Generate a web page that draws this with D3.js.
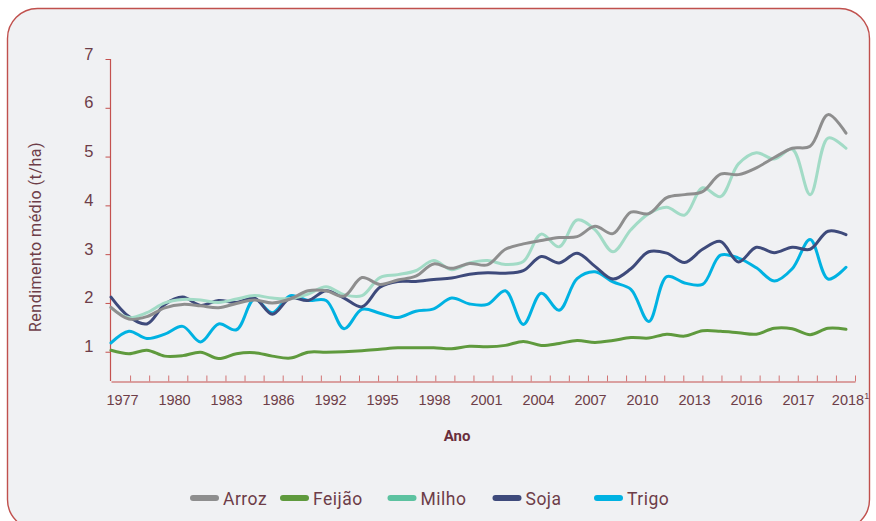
<!DOCTYPE html>
<html>
<head>
<meta charset="utf-8">
<script src="https://cdnjs.cloudflare.com/ajax/libs/d3/7.8.5/d3.min.js"></script>
<style>
  html, body { margin: 0; padding: 0; background: #ffffff; }
  svg { display: block; font-family: Roboto, "Open Sans", sans-serif; }
</style>
</head>
<body>
<svg id="chart" width="876" height="521"></svg>
<script>
// x axis labels as printed on the chart
const yearLabels = ['1977', '1980', '1983', '1986', '1992', '1995', '1998', '2001',
  '2004', '2007', '2010', '2013', '2016', '2017', '2018']

// yields (t/ha), one value per point along the x axis
const arroz = [1.91, 1.67, 1.72, 1.90, 1.97, 1.94, 1.90, 1.99, 2.06, 2.00, 2.08, 2.25, 2.25, 2.14,
  2.52, 2.38, 2.47, 2.55, 2.80, 2.71, 2.81, 2.78, 3.10, 3.21, 3.28, 3.34, 3.36, 3.57, 3.42,
  3.86, 3.83, 4.16, 4.22, 4.28, 4.64, 4.63, 4.77, 4.98, 5.17, 5.21, 5.86, 5.48]
const feijao = [1.03, 0.96, 1.03, 0.91, 0.92, 0.99, 0.86, 0.96, 0.98, 0.91, 0.87, 0.99, 0.99, 1.00,
  1.02, 1.05, 1.08, 1.08, 1.08, 1.06, 1.11, 1.10, 1.13, 1.21, 1.13, 1.17, 1.23, 1.19, 1.23,
  1.29, 1.28, 1.36, 1.32, 1.43, 1.42, 1.39, 1.36, 1.48, 1.47, 1.35, 1.48, 1.46]
const milho = [1.90, 1.70, 1.80, 2.00, 2.07, 2.06, 2.01, 2.08, 2.15, 2.10, 2.09, 2.18, 2.33, 2.17,
  2.15, 2.52, 2.58, 2.66, 2.87, 2.68, 2.82, 2.87, 2.79, 2.85, 3.41, 3.15, 3.70, 3.50, 3.05,
  3.50, 3.83, 3.96, 3.80, 4.36, 4.18, 4.85, 5.08, 4.95, 5.15, 4.22, 5.38, 5.17]
const soja = [2.12, 1.72, 1.57, 1.97, 2.12, 1.95, 2.05, 2.01, 2.10, 1.77, 2.10, 2.05, 2.25, 2.10,
  1.92, 2.32, 2.44, 2.44, 2.48, 2.51, 2.59, 2.62, 2.61, 2.66, 2.95, 2.82, 3.02, 2.75, 2.49,
  2.70, 3.05, 3.02, 2.83, 3.10, 3.26, 2.84, 3.14, 3.03, 3.14, 3.10, 3.47, 3.40]
const trigo = [1.18, 1.42, 1.27, 1.36, 1.52, 1.20, 1.57, 1.45, 2.08, 1.80, 2.15, 2.05, 2.05, 1.47,
  1.87, 1.79, 1.70, 1.83, 1.88, 2.10, 1.98, 1.97, 2.25, 1.56, 2.20, 1.85, 2.50, 2.64, 2.43,
  2.28, 1.62, 2.54, 2.41, 2.38, 2.98, 2.92, 2.72, 2.45, 2.70, 3.30, 2.49, 2.73]

const seriesNames = ['Arroz', 'Feijão', 'Milho', 'Soja', 'Trigo']
const seriesValues = [arroz, feijao, milho, soja, trigo]
const lineColors = ['#8e8e8e', '#5f9a3d', '#a2dbc6', '#3e4a7b', '#00b2e2']
const legendColors = ['#8e8e8e', '#5f9a3d', '#5cc2a0', '#3e4a7b', '#00b2e2']

const svg = d3.select('#chart')
const textColor = '#6d3d48'
const axisColor = '#c4514e'

// card
svg.append('rect')
  .attr('x', 7.5).attr('y', 8.5)
  .attr('width', 862).attr('height', 521)
  .attr('rx', 30).attr('ry', 30)
  .attr('fill', '#f0f1f3')
  .attr('stroke', '#c0504d')
  .attr('stroke-width', 1.4)

const x = d3.scaleLinear().domain([0, arroz.length - 1]).range([111, 846])
const y = d3.scaleLinear().domain([0.4, 7]).range([381, 59])
const xTicks = d3.scaleLinear().domain([0, 39]).range([111, 855])
const xLabels = d3.scalePoint().domain(yearLabels).range([122, 850])

// y axis
const yAxis = svg.append('g')
  .attr('transform', 'translate(110.5,0)')
  .call(d3.axisLeft(y).tickValues([1, 2, 3, 4, 5, 6, 7]).tickSize(5).tickSizeOuter(0).tickFormat(d3.format('d')))
yAxis.select('.domain').attr('stroke', axisColor).attr('stroke-width', 1.2)
  .attr('d', 'M0,' + y(7) + 'V381')
yAxis.selectAll('.tick line').attr('stroke', axisColor)
yAxis.selectAll('.tick text')
  .attr('fill', textColor).attr('font-size', 16.5)
  .attr('x', -17).attr('dy', 0)

// x axis: minor ticks
const xAxis = svg.append('g')
  .attr('transform', 'translate(0,381.5)')
  .call(d3.axisTop(xTicks).tickValues(d3.range(1, 40)).tickSize(6).tickSizeOuter(0).tickFormat(''))
xAxis.select('.domain').attr('stroke', axisColor).attr('stroke-width', 1.2)
xAxis.selectAll('.tick line').attr('stroke', '#d27474')

// x axis: year labels
const labelAxis = svg.append('g')
  .attr('transform', 'translate(0,404.5)')
  .call(d3.axisBottom(xLabels).tickSize(0))
labelAxis.select('.domain').remove()
labelAxis.selectAll('.tick text')
  .attr('fill', textColor).attr('font-size', 14.5)
  .attr('y', 0).attr('dy', 0)
labelAxis.selectAll('.tick').filter(d => d === '2018').select('text')
  .append('tspan').attr('font-size', 9).attr('dy', -6).text('1')

// axis titles
svg.append('text')
  .attr('transform', 'translate(41,237) rotate(-90)')
  .attr('text-anchor', 'middle')
  .attr('fill', textColor).attr('font-size', 16).attr('letter-spacing', 0.5)
  .text('Rendimento médio (t/ha)')

svg.append('text')
  .attr('x', 457).attr('y', 441)
  .attr('text-anchor', 'middle')
  .attr('fill', '#6a2e3b').attr('font-size', 15).attr('font-weight', 700)
  .text('Ano')

// lines
const line = d3.line()
  .x((d, i) => x(i))
  .y(d => y(d))
  .curve(d3.curveCatmullRom.alpha(0.5))

const drawOrder = [1, 4, 3, 2, 0]
drawOrder.forEach(k => {
  svg.append('path')
    .datum(seriesValues[k])
    .attr('d', line)
    .attr('fill', 'none')
    .attr('stroke', lineColors[k])
    .attr('stroke-width', 3)
    .attr('stroke-linecap', 'round')
    .attr('stroke-linejoin', 'round')
})

// legend
const legendX = [191, 281, 388.5, 493.5, 595]
const legend = svg.append('g')
seriesNames.forEach((name, i) => {
  const g = legend.append('g').attr('transform', 'translate(' + legendX[i] + ',498)')
  g.append('line')
    .attr('x1', 2).attr('x2', 25)
    .attr('stroke', legendColors[i]).attr('stroke-width', 6)
    .attr('stroke-linecap', 'round')
  g.append('text')
    .attr('x', 32).attr('y', 7)
    .attr('fill', textColor).attr('font-size', 17.5).attr('letter-spacing', 0.5)
    .text(name)
})
</script>
</body>
</html>
